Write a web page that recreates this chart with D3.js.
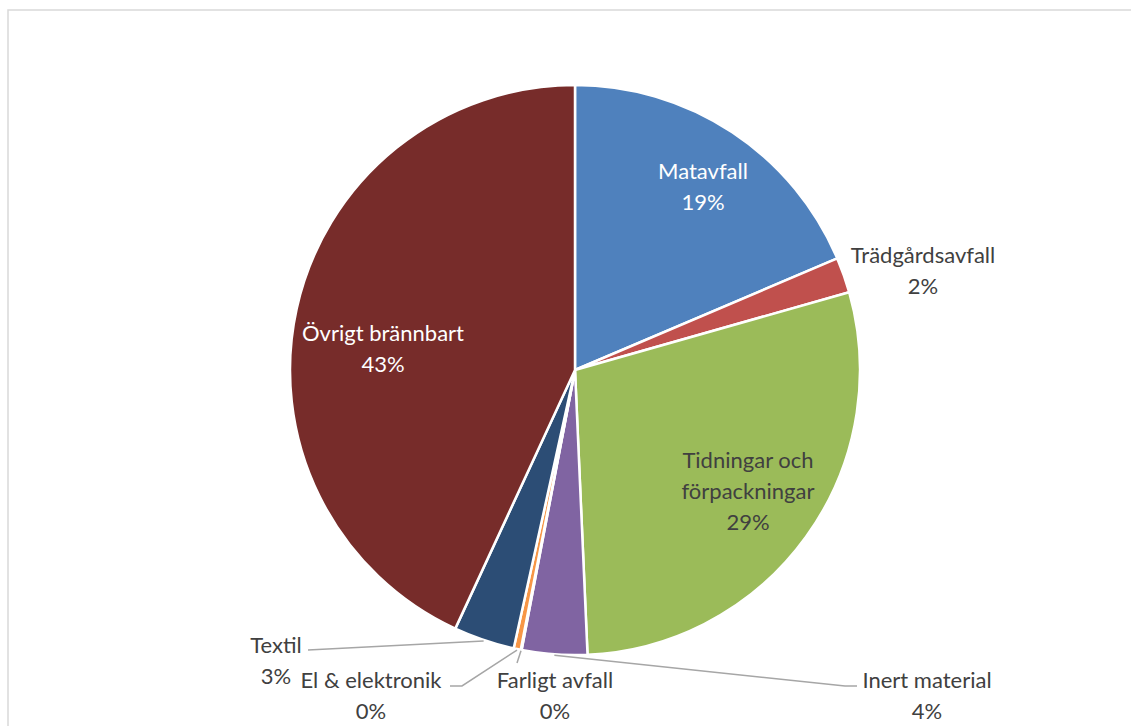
<!DOCTYPE html>
<html>
<head>
<meta charset="utf-8">
<script src="https://cdn.jsdelivr.net/npm/d3@7"></script>
<style>
  html, body { margin: 0; padding: 0; background: #fff; }
  svg { display: block; }
</style>
</head>
<body>
<svg id="chart" width="1131" height="726"></svg>
<script>
// ---- data ----
const categories = ["Matavfall", "Trädgårdsavfall", "Tidningar och förpackningar", "Inert material", "Farligt avfall", "El & elektronik", "Textil", "Övrigt brännbart"];
const values = [18.6, 2.0, 28.7, 3.7, 0.05, 0.4, 3.45, 43.1];
const colors = ["#4F81BD", "#C0504D", "#9BBB59", "#8064A2", "#4BACC6", "#F79646", "#2C4D75", "#772C2A"];
const labelLines = [["Matavfall"], ["Trädgårdsavfall"], ["Tidningar och", "förpackningar"], ["Inert material"], ["Farligt avfall"], ["El & elektronik"], ["Textil"], ["Övrigt brännbart"]];

// ---- layout ----
const W = 1131, H = 726;
const cx = 575, cy = 370, R = 285;
const fontFamily = "Lato, 'Open Sans', sans-serif";
const fontSize = 22;
const lineH = 31;
// label anchor (center of text block, first line baseline) relative to pie center
const labelPos = {
  "Matavfall": {x: 128, y: -191, fill: "#ffffff"},
  "Trädgårdsavfall": {x: 348, y: -107, fill: "#404040"},
  "Tidningar och förpackningar": {x: 173, y: 98, fill: "#404040"},
  "Inert material": {x: 352, y: 318, fill: "#404040"},
  "Farligt avfall": {x: -20, y: 318, fill: "#404040"},
  "El & elektronik": {x: -204, y: 318, fill: "#404040"},
  "Textil": {x: -299, y: 283, fill: "#404040"},
  "Övrigt brännbart": {x: -192, y: -29, fill: "#ffffff"}
};
// leader line points after the start on the slice edge (relative to pie center)
const leaders = {
  "Inert material": [[270, 316], [282, 316]],
  "Farligt avfall": [[-58, 293]],
  "El & elektronik": [[-113, 316], [-125, 316]],
  "Textil": [[-267, 280]]
};

const svg = d3.select("#chart");

// outer frame
svg.append("rect")
  .attr("x", 8).attr("y", 10)
  .attr("width", W + 10).attr("height", H + 10)
  .attr("fill", "none")
  .attr("stroke", "#d9d9d9")
  .attr("stroke-width", 1.5);

const data = categories.map((c, i) => ({cat: c, value: values[i], color: colors[i], lines: labelLines[i]}));
const total = d3.sum(values);

const pie = d3.pie().value(d => d.value).sort(null);
const arcs = pie(data);
const arc = d3.arc().innerRadius(0).outerRadius(R);

const g = svg.append("g").attr("transform", `translate(${cx},${cy})`);

g.selectAll("path.slice")
  .data(arcs)
  .join("path")
  .attr("class", "slice")
  .attr("d", arc)
  .attr("fill", d => d.data.color)
  .attr("stroke", "#ffffff")
  .attr("stroke-width", 2.5)
  .attr("stroke-linejoin", "round");

// leader lines
arcs.forEach(a => {
  const pts = leaders[a.data.cat];
  if (!pts) return;
  const mid = (a.startAngle + a.endAngle) / 2;
  const start = [Math.sin(mid) * (R + 1), -Math.cos(mid) * (R + 1)];
  g.append("path")
    .attr("d", d3.line()([start, ...pts]))
    .attr("fill", "none")
    .attr("stroke", "#a6a6a6")
    .attr("stroke-width", 1.5);
});

// labels
arcs.forEach(a => {
  const p = labelPos[a.data.cat];
  const pct = d3.format(".0f")(a.data.value / total * 100) + "%";
  const lines = [...a.data.lines, pct];
  const t = g.append("text")
    .attr("text-anchor", "middle")
    .attr("font-family", fontFamily)
    .attr("font-size", fontSize)
    .attr("fill", p.fill);
  lines.forEach((ln, i) => {
    t.append("tspan")
      .attr("x", p.x)
      .attr("y", p.y + i * lineH)
      .text(ln);
  });
});
</script>
</body>
</html>
